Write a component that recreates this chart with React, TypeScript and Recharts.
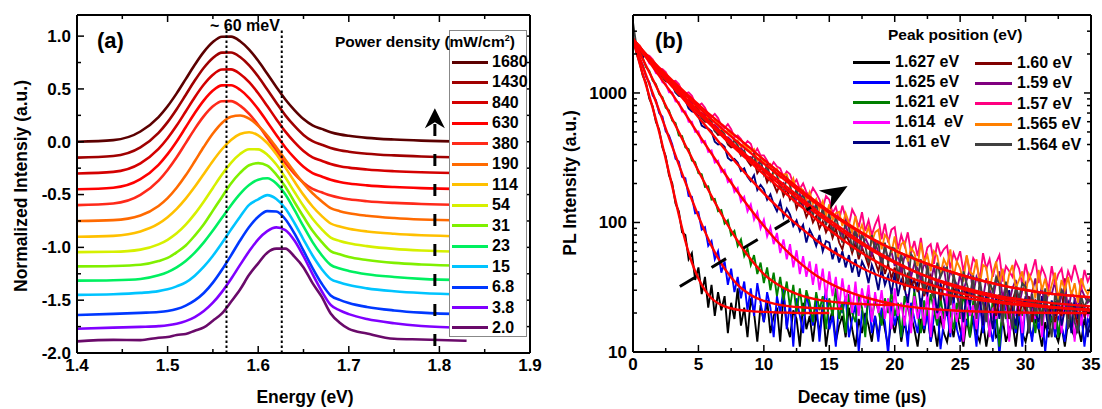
import React from 'react';
import { LineChart, Line, XAxis, YAxis, ReferenceLine, ReferenceDot, Legend } from 'recharts';

const FONT = '"Liberation Sans", Arial, Helvetica, sans-serif';

// ---------------- Panel (a): PL spectra ----------------
const energy = [1.40, 1.44, 1.47, 1.49, 1.50, 1.51, 1.52, 1.53, 1.54, 1.55, 1.56, 1.57, 1.58, 1.59, 1.60, 1.61, 1.62, 1.63, 1.64, 1.65, 1.66, 1.67, 1.68, 1.69, 1.70, 1.72, 1.75, 1.78, 1.83];
const powerLabels = ['1680', '1430', '840', '630', '380', '190', '114', '54', '31', '23', '15', '6.8', '3.8', '2.0'];
const powerColors = ['#5c0000', '#a00000', '#d40000', '#ff0000', '#ff2a1a', '#ff6a00', '#ffc000', '#d6f000', '#80f000', '#00f060', '#00c4ff', '#0038ff', '#8000ff', '#6a0a6a'];

const pl1680 = [0.00, 0.015, 0.097, 0.234, 0.336, 0.458, 0.593, 0.729, 0.851, 0.944, 0.994, 0.995, 0.952, 0.873, 0.767, 0.644, 0.519, 0.40, 0.30, 0.215, 0.155, 0.122, 0.091, 0.07, 0.056, 0.037, 0.021, 0.011, 0.003];
const pl1430 = [-0.15, -0.135, -0.053, 0.084, 0.186, 0.308, 0.443, 0.579, 0.701, 0.794, 0.844, 0.845, 0.802, 0.723, 0.617, 0.494, 0.369, 0.25, 0.15, 0.065, 0.005, -0.028, -0.059, -0.08, -0.094, -0.113, -0.129, -0.139, -0.147];
const pl840 = [-0.30, -0.285, -0.204, -0.068, 0.033, 0.153, 0.287, 0.422, 0.542, 0.635, 0.684, 0.685, 0.642, 0.564, 0.459, 0.338, 0.214, 0.096, -0.003, -0.087, -0.147, -0.179, -0.21, -0.231, -0.245, -0.263, -0.279, -0.289, -0.297];
const pl630 = [-0.45, -0.435, -0.354, -0.218, -0.117, 0.003, 0.137, 0.272, 0.392, 0.485, 0.534, 0.535, 0.492, 0.414, 0.309, 0.188, 0.064, -0.054, -0.153, -0.237, -0.297, -0.329, -0.36, -0.381, -0.395, -0.413, -0.429, -0.439, -0.447];
const pl380 = [-0.60, -0.585, -0.504, -0.368, -0.267, -0.147, -0.013, 0.122, 0.242, 0.335, 0.384, 0.385, 0.342, 0.264, 0.159, 0.038, -0.086, -0.204, -0.303, -0.387, -0.447, -0.479, -0.51, -0.531, -0.545, -0.563, -0.579, -0.589, -0.597];
const pl190 = [-0.75, -0.742, -0.698, -0.608, -0.534, -0.436, -0.318, -0.185, -0.048, 0.078, 0.178, 0.237, 0.248, 0.218, 0.152, 0.059, -0.052, -0.17, -0.287, -0.395, -0.488, -0.563, -0.629, -0.657, -0.676, -0.70, -0.722, -0.736, -0.746];
const pl114 = [-0.90, -0.891, -0.85, -0.776, -0.715, -0.636, -0.539, -0.427, -0.305, -0.182, -0.071, 0.017, 0.073, 0.09, 0.061, -0.012, -0.118, -0.245, -0.377, -0.503, -0.613, -0.702, -0.774, -0.803, -0.823, -0.849, -0.871, -0.885, -0.896];
const pl54 = [-1.045, -1.042, -1.021, -0.972, -0.928, -0.867, -0.785, -0.683, -0.565, -0.437, -0.311, -0.199, -0.116, -0.071, -0.072, -0.123, -0.216, -0.339, -0.476, -0.609, -0.729, -0.827, -0.908, -0.939, -0.961, -0.988, -1.014, -1.029, -1.041];
const pl31 = [-1.18, -1.176, -1.165, -1.13, -1.10, -1.047, -0.982, -0.888, -0.781, -0.652, -0.523, -0.395, -0.295, -0.222, -0.202, -0.226, -0.311, -0.426, -0.57, -0.71, -0.843, -0.948, -1.036, -1.066, -1.092, -1.12, -1.147, -1.162, -1.176];
const pl23 = [-1.315, -1.311, -1.299, -1.265, -1.234, -1.189, -1.129, -1.049, -0.952, -0.841, -0.72, -0.601, -0.494, -0.41, -0.359, -0.346, -0.395, -0.50, -0.645, -0.802, -0.95, -1.072, -1.166, -1.20, -1.223, -1.254, -1.28, -1.298, -1.311];
const pl15 = [-1.45, -1.444, -1.431, -1.414, -1.397, -1.369, -1.332, -1.268, -1.183, -1.079, -0.959, -0.832, -0.71, -0.598, -0.545, -0.505, -0.542, -0.632, -0.769, -0.926, -1.077, -1.204, -1.299, -1.333, -1.357, -1.388, -1.415, -1.432, -1.446];
const pl6_8 = [-1.64, -1.63, -1.62, -1.612, -1.602, -1.584, -1.551, -1.502, -1.432, -1.334, -1.212, -1.076, -0.935, -0.807, -0.71, -0.657, -0.66, -0.734, -0.868, -1.031, -1.196, -1.342, -1.455, -1.497, -1.526, -1.564, -1.597, -1.618, -1.634];
const pl3_8 = [-1.77, -1.76, -1.753, -1.746, -1.738, -1.723, -1.698, -1.66, -1.603, -1.524, -1.421, -1.299, -1.166, -1.037, -0.924, -0.846, -0.811, -0.836, -0.935, -1.084, -1.253, -1.413, -1.545, -1.597, -1.632, -1.678, -1.718, -1.744, -1.762];
const pl2_0 = [-1.89, -1.876, -1.878, -1.855, -1.849, -1.829, -1.82, -1.789, -1.758, -1.694, -1.625, -1.515, -1.399, -1.26, -1.151, -1.05, -1.012, -1.012, -1.088, -1.19, -1.339, -1.467, -1.626, -1.714, -1.772, -1.815, -1.865, -1.872, -1.884];

const powerSeries = [pl1680, pl1430, pl840, pl630, pl380, pl190, pl114, pl54, pl31, pl23, pl15, pl6_8, pl3_8, pl2_0];

const xTicksA = [1.4, 1.45, 1.5, 1.55, 1.6, 1.65, 1.7, 1.75, 1.8, 1.85, 1.9];
const xMajorA = [1.4, 1.5, 1.6, 1.7, 1.8, 1.9];
const yTicksA = [-2, -1.75, -1.5, -1.25, -1, -0.75, -0.5, -0.25, 0, 0.25, 0.5, 0.75, 1];
const yMajorA = [-2, -1.5, -1, -0.5, 0, 0.5, 1];
const peakMarksA = [1.565, 1.626];

const rowsA = energy.map((e, i) => {
  const r: any = { e };
  powerSeries.forEach((s, k) => { r['s' + k] = s[i]; });
  return r;
});

// ---------------- Panel (b): decay curves ----------------
const decayTime = [
  0, 0.25, 0.5, 0.75, 1, 1.25, 1.5, 1.75, 2, 2.25, 2.5, 2.75, 3, 3.25, 3.5, 3.75, 4, 4.25, 4.5, 4.75,
  5, 5.25, 5.5, 5.75, 6, 6.25, 6.5, 6.75, 7, 7.25, 7.5, 7.75, 8, 8.25, 8.5, 8.75, 9, 9.25, 9.5, 9.75,
  10, 10.25, 10.5, 10.75, 11, 11.25, 11.5, 11.75, 12, 12.25, 12.5, 12.75, 13, 13.25, 13.5, 13.75, 14, 14.25, 14.5, 14.75,
  15, 15.25, 15.5, 15.75, 16, 16.25, 16.5, 16.75, 17, 17.25, 17.5, 17.75, 18, 18.25, 18.5, 18.75, 19, 19.25, 19.5, 19.75,
  20, 20.25, 20.5, 20.75, 21, 21.25, 21.5, 21.75, 22, 22.25, 22.5, 22.75, 23, 23.25, 23.5, 23.75, 24, 24.25, 24.5, 24.75,
  25, 25.25, 25.5, 25.75, 26, 26.25, 26.5, 26.75, 27, 27.25, 27.5, 27.75, 28, 28.25, 28.5, 28.75, 29, 29.25, 29.5, 29.75,
  30, 30.25, 30.5, 30.75, 31, 31.25, 31.5, 31.75, 32, 32.25, 32.5, 32.75, 33, 33.25, 33.5, 33.75, 34, 34.25, 34.5, 34.75,
  35];
const peakLabels = ['1.627 eV', '1.625 eV', '1.621 eV', '1.614  eV', '1.61 eV', '1.60 eV', '1.59 eV', '1.57 eV', '1.565 eV', '1.564 eV'];
const peakColors = ['#000000', '#0000ff', '#008000', '#ff00ff', '#000080', '#800000', '#800080', '#ff0080', '#ff8000', '#404040'];

const dec1627 = [
  2750, 2050, 1720, 1360, 1190, 905, 790, 600, 520, 380, 325, 232, 200, 140, 122, 84, 80, 52, 58, 36,
  45, 28, 38, 22, 33, 19, 29, 21, 27, 14, 24, 18, 31, 16, 22, 13, 26, 20, 12, 23,
  17, 25, 14, 19, 22, 12, 28, 16, 13, 21, 18, 11, 24, 15, 19, 12, 20, 14, 23, 11,
  17, 21, 12, 16, 19, 13, 22, 15, 11, 18, 14, 20, 16, 12, 19, 13, 21, 15, 11, 18,
  14, 20, 12, 17, 13, 19, 15, 11, 18, 14, 21, 12, 16, 11, 19, 14, 12, 17, 13, 20,
  15, 11, 18, 13, 19, 14, 12, 17, 11, 16, 20, 13, 14, 18, 12, 15, 17, 11, 19, 14,
  12, 16, 13, 18, 15, 11, 17, 13, 19, 14, 12, 16, 11, 17, 15, 13, 16, 12, 18, 14,
  15];
const dec1625 = [
  2650, 2150, 1850, 1640, 1330, 1210, 960, 880, 700, 655, 505, 470, 400, 310, 295, 225, 220, 160, 158, 118,
  120, 88, 92, 66, 72, 52, 60, 41, 50, 33, 44, 29, 38, 26, 35, 21, 31, 19, 34, 24,
  17, 29, 22, 13, 27, 20, 31, 15, 24, 11, 26, 19, 14, 28, 21, 16, 25, 12, 22, 30,
  15, 19, 11, 24, 20, 27, 13, 18, 23, 10, 21, 16, 28, 14, 19, 12, 22, 17, 9.5, 25,
  16, 21, 13, 19, 11, 24, 18, 14, 26, 15, 20, 12, 19, 23, 10.5, 17, 21, 13, 27, 15,
  12, 20, 16, 23, 18, 11, 25, 14, 22, 16, 12, 20, 9.5, 18, 24, 13, 19, 14, 21, 11,
  25, 17, 12, 22, 15, 20, 10, 18, 23, 13, 19, 16, 12, 21, 17, 24, 14, 20, 11, 18,
  16];
const dec1621 = [
  2580, 2340, 2010, 1860, 1580, 1480, 1250, 1170, 980, 925, 770, 735, 610, 585, 470, 465, 380, 368, 300, 292,
  240, 236, 188, 190, 150, 152, 122, 125, 98, 104, 80, 86, 66, 74, 55, 63, 47, 56, 40, 49,
  34, 45, 30, 41, 27, 38, 25, 35, 22, 33, 20, 31, 19, 30, 24, 17, 29, 21, 27, 15,
  26, 19, 31, 18, 24, 14, 28, 20, 17, 27, 22, 13, 30, 18, 25, 21, 16, 26, 20, 29,
  19, 24, 13, 27, 22, 17, 30, 20, 14, 25, 19, 28, 21, 16, 26, 18, 29, 20, 15, 24,
  18, 27, 22, 13, 25, 19, 29, 17, 21, 14, 26, 20, 11, 24, 18, 28, 20, 15, 23, 19,
  27, 17, 21, 14, 24, 19, 28, 16, 18, 25, 13, 22, 26, 20, 17, 24, 15, 23, 19, 21,
  20];
const dec1614 = [
  2620, 2380, 2230, 1990, 1930, 1690, 1640, 1420, 1400, 1210, 1180, 1010, 1010, 860, 850, 720, 720, 600, 600, 500,
  505, 415, 425, 350, 360, 290, 300, 245, 255, 205, 215, 172, 185, 145, 158, 122, 138, 105, 120, 90,
  105, 78, 92, 68, 83, 58, 74, 52, 68, 45, 61, 40, 55, 38, 50, 33, 48, 30, 44, 26,
  42, 27, 38, 22, 37, 24, 33, 20, 35, 19, 31, 22, 33, 17, 29, 20, 30, 18, 26, 15,
  31, 19, 24, 16, 28, 14, 27, 18, 25, 16, 29, 13, 27, 18, 22, 15, 30, 14, 24, 17,
  26, 12, 28, 19, 23, 15, 27, 16, 29, 13, 22, 18, 25, 17, 28, 12, 24, 19, 26, 14,
  27, 16, 23, 18, 28, 13, 25, 17, 22, 15, 29, 14, 26, 18, 24, 12, 27, 16, 23, 19,
  22];
const dec1610 = [
  2640, 2400, 2200, 1880, 1990, 1780, 1650, 1610, 1510, 1340, 1250, 1230, 1160, 1010, 950, 940, 880, 760, 720, 710,
  665, 560, 540, 530, 505, 420, 400, 405, 385, 315, 300, 310, 290, 250, 262, 225, 208, 232, 178, 195,
  180, 150, 165, 138, 122, 145, 110, 128, 115, 94, 104, 86, 96, 70, 88, 78, 66, 80, 60, 72,
  70, 52, 64, 49, 60, 45, 56, 41, 52, 38, 50, 44, 34, 47, 40, 30, 44, 33, 39, 28,
  41, 27, 36, 31, 24, 37, 30, 35, 22, 33, 28, 36, 31, 20, 34, 26, 19, 30, 25, 33,
  28, 17, 30, 23, 32, 20, 26, 16, 29, 22, 15, 27, 18, 28, 24, 30, 21, 16, 27, 23,
  26, 14, 24, 20, 17, 27, 22, 15, 25, 19, 28, 16, 21, 24, 14, 26, 18, 23, 20, 13,
  21];
const dec1600 = [
  2610, 2380, 2190, 2010, 1960, 1760, 1630, 1560, 1480, 1330, 1235, 1210, 1150, 1030, 965, 950, 905, 800, 760, 745,
  725, 640, 600, 600, 580, 510, 475, 480, 462, 400, 380, 385, 370, 330, 345, 300, 275, 302, 240, 262,
  250, 205, 230, 198, 172, 200, 160, 181, 150, 168, 128, 146, 134, 110, 124, 100, 112, 90, 102, 84,
  95, 76, 90, 70, 62, 80, 72, 58, 70, 52, 64, 55, 46, 59, 50, 42, 54, 40, 48, 37,
  45, 34, 47, 30, 41, 32, 36, 29, 38, 27, 33, 39, 28, 36, 25, 33, 34, 23, 31, 27,
  22, 32, 26, 30, 29, 21, 28, 24, 20, 30, 25, 19, 28, 22, 27, 18, 25, 30, 19, 24,
  21, 27, 17, 25, 23, 18, 26, 20, 24, 17, 22, 19, 37, 18, 23, 20, 16, 24, 19, 22,
  20];
const dec1590 = [
  2580, 2400, 2290, 2060, 1910, 1850, 1740, 1560, 1460, 1420, 1340, 1200, 1130, 1110, 1060, 950, 890, 880, 840, 750,
  705, 700, 670, 600, 560, 565, 535, 480, 450, 455, 430, 385, 362, 380, 335, 318, 320, 290, 282, 301,
  240, 262, 230, 214, 218, 190, 201, 176, 180, 160, 150, 166, 138, 150, 122, 134, 125, 106, 116, 99,
  108, 88, 97, 92, 80, 96, 78, 88, 70, 84, 64, 76, 67, 56, 72, 58, 50, 64, 53, 60,
  46, 58, 41, 55, 52, 38, 48, 44, 36, 50, 42, 34, 46, 33, 40, 45, 31, 42, 38, 29,
  40, 30, 36, 44, 28, 38, 33, 26, 37, 31, 25, 35, 42, 26, 33, 24, 31, 36, 23, 30,
  34, 22, 29, 37, 25, 32, 21, 30, 28, 35, 22, 27, 33, 20, 29, 26, 21, 31, 27, 24,
  26];
const dec1570 = [
  2620, 2450, 2330, 2120, 1980, 1940, 1820, 1660, 1550, 1530, 1450, 1290, 1230, 1240, 1170, 1030, 990, 1010, 950, 840,
  800, 830, 770, 680, 650, 690, 640, 560, 535, 575, 525, 455, 470, 440, 395, 425, 405, 340, 372, 330,
  330, 300, 265, 292, 270, 262, 225, 248, 236, 198, 214, 182, 200, 172, 160, 185, 168, 150, 128, 160,
  150, 118, 132, 104, 135, 108, 96, 126, 112, 92, 120, 86, 104, 80, 96, 110, 74, 98, 70, 88,
  92, 62, 80, 66, 84, 58, 72, 55, 76, 50, 64, 68, 48, 70, 56, 62, 66, 44, 58, 50,
  60, 42, 55, 40, 53, 48, 36, 58, 44, 52, 38, 49, 56, 35, 46, 42, 38, 50, 44, 33,
  48, 36, 42, 52, 34, 45, 39, 30, 46, 33, 40, 44, 31, 42, 36, 47, 38, 30, 43, 35,
  40];
const dec1565 = [
  2650, 2450, 2320, 2080, 1930, 1870, 1790, 1610, 1500, 1470, 1410, 1250, 1180, 1170, 1130, 990, 940, 935, 900, 800,
  755, 760, 720, 640, 605, 620, 590, 515, 495, 510, 482, 420, 430, 385, 405, 372, 350, 368, 300, 322,
  295, 262, 281, 238, 260, 222, 235, 236, 190, 218, 170, 186, 178, 150, 172, 139, 152, 126, 146, 112,
  138, 104, 118, 121, 94, 118, 100, 84, 112, 82, 96, 78, 92, 70, 84, 88, 62, 80, 74, 58,
  78, 54, 68, 71, 50, 64, 58, 46, 70, 49, 56, 42, 60, 55, 40, 52, 46, 62, 38, 50,
  44, 35, 56, 42, 39, 52, 33, 47, 45, 30, 41, 50, 34, 44, 29, 40, 47, 31, 36, 42,
  28, 40, 35, 26, 43, 30, 37, 27, 33, 41, 25, 36, 30, 38, 27, 34, 24, 37, 31, 28,
  32];
const dec1564 = [
  3500, 2350, 2200, 1960, 1980, 1760, 1640, 1600, 1510, 1330, 1250, 1230, 1180, 1020, 970, 960, 930, 800, 760, 780,
  740, 640, 610, 625, 600, 505, 490, 510, 480, 410, 395, 430, 395, 330, 360, 305, 290, 340, 262, 300,
  235, 282, 212, 252, 232, 190, 172, 220, 195, 150, 182, 140, 168, 128, 150, 112, 142, 100, 130, 95,
  118, 80, 112, 88, 70, 102, 92, 60, 90, 56, 84, 66, 49, 80, 62, 72, 42, 70, 48, 64,
  63, 37, 57, 42, 32, 57, 52, 36, 52, 28, 48, 30, 26, 49, 38, 44, 45, 23, 40, 30,
  20, 42, 34, 27, 39, 18, 37, 24, 17, 35, 29, 38, 33, 16, 35, 21, 15, 32, 26, 34,
  32, 14, 28, 19, 29, 16, 31, 18, 13, 28, 23, 30, 27, 15, 24, 17, 14, 27, 22, 26,
  24];

// fitted curves (null where the fit is not drawn)
const fitTime = [0, 0.5, 1, 1.5, 2, 2.5, 3, 3.5, 4, 4.5, 5, 5.5, 6, 7, 8, 9, 10, 11, 12, 13, 14, 15, 16, 18, 20, 22, 25, 28, 31, 35];
const fit1627 = [2600, 1700, 1150, 770, 500, 310, 190, 115, 72, 49, 37, 30, 26, 22.5, 21.2, 20.7, 20.4, 20.2, 20.1, 20, 20, 20, null, null, null, null, null, null, null, null];
const fit1625 = [2600, 1880, 1370, 1000, 730, 530, 385, 280, 205, 150, 112, 85, 66, 44, 33, 27.5, 24.8, 23.3, 22.5, 22.1, 21.8, 21.7, 21.6, null, null, null, null, null, null, null];
const fit1621 = [2600, 2050, 1620, 1280, 1010, 800, 630, 500, 395, 315, 250, 200, 160, 105, 72, 52, 40, 33.5, 29.5, 27, 25.5, 24.6, 24, 23.3, 23, null, null, null, null, null];
const fit1614 = [2600, 2200, 1880, 1600, 1360, 1150, 980, 825, 690, 575, 480, 405, 340, 240, 172, 126, 94, 72, 57, 46.5, 39, 34, 30.5, 26, 23.3, 21.8, 20.8, 20.3, 20.1, 20];
const fit1610 = [2600, 2250, 1950, 1700, 1480, 1290, 1130, 985, 860, 750, 650, 565, 490, 370, 280, 215, 168, 133, 107, 88, 73, 62, 54, 42, 35, 30.5, 26.5, 24, 22.5, 21.2];
const fit1600 = [2600, 2230, 1920, 1660, 1450, 1270, 1120, 990, 880, 785, 700, 625, 558, 445, 358, 290, 235, 192, 157, 129, 106, 88, 74, 54, 42, 35, 28.5, 24.5, 22.5, 21];
const fit1590 = [2600, 2250, 1950, 1700, 1490, 1310, 1160, 1030, 915, 815, 727, 650, 580, 465, 375, 305, 250, 205, 170, 142, 118, 100, 85, 63, 49, 40, 32, 27, 24.5, 22.5];
const fit1570 = [2600, 2280, 2000, 1770, 1570, 1400, 1250, 1120, 1005, 905, 815, 735, 665, 548, 452, 372, 305, 252, 208, 173, 145, 122, 104, 78, 61, 50, 39.5, 33, 29, 26.5];
const fit1565 = [2600, 2260, 1970, 1730, 1530, 1360, 1210, 1080, 965, 865, 775, 695, 625, 510, 418, 343, 285, 238, 198, 166, 140, 119, 102, 77, 61, 50, 39.5, 33, 29, 26.5];
const fit1564 = [2600, 2240, 1935, 1680, 1470, 1290, 1140, 1010, 900, 803, 718, 643, 577, 465, 377, 310, 258, 216, 180, 149, 124, 105, 89, 65, 50, 40, 31, 26, 23, 21];

const decaySeries = [dec1627, dec1625, dec1621, dec1614, dec1610, dec1600, dec1590, dec1570, dec1565, dec1564];
const fitSeries = [fit1627, fit1625, fit1621, fit1614, fit1610, fit1600, fit1590, fit1570, fit1565, fit1564];

const xTicksB = [0, 2.5, 5, 7.5, 10, 12.5, 15, 17.5, 20, 22.5, 25, 27.5, 30, 32.5, 35];
const xMajorB = [0, 5, 10, 15, 20, 25, 30, 35];
const yTicksB = [10, 20, 30, 40, 50, 60, 70, 80, 90, 100, 200, 300, 400, 500, 600, 700, 800, 900, 1000, 2000, 3000, 4000];
const yMajorB = [10, 100, 1000];

const decayRows = decayTime.map((t, i) => {
  const r: any = { t };
  decaySeries.forEach((s, k) => { r['d' + k] = s[i]; });
  return r;
});
const fitRows = fitTime.map((t, i) => {
  const r: any = { t };
  fitSeries.forEach((s, k) => { r['f' + k] = s[i]; });
  return r;
});

// ---------------- helpers ----------------
const AXIS = { stroke: '#000', strokeWidth: 2 };
const TXT = { fontFamily: FONT, fontWeight: 700, fontSize: 17, fill: '#000' } as const;

const isMajor = (v: number, majors: number[]) => majors.some((m) => Math.abs(m - v) < 1e-9);

function makeTick(side: 'bottom' | 'top' | 'left' | 'right', majors: number[], fmt: ((v: number) => string) | null) {
  return (props: any) => {
    const { x, y, payload } = props;
    const v = Number(payload.value);
    const major = isMajor(v, majors);
    const len = major ? 7 : 4;
    let ln: any = null;
    if (side === 'bottom') ln = <line x1={x} x2={x} y1={y} y2={y - len} stroke="#000" strokeWidth={1.5} />;
    if (side === 'top') ln = <line x1={x} x2={x} y1={y} y2={y + len} stroke="#000" strokeWidth={1.5} />;
    if (side === 'left') ln = <line x1={x} x2={x + len} y1={y} y2={y} stroke="#000" strokeWidth={1.5} />;
    if (side === 'right') ln = <line x1={x} x2={x - len} y1={y} y2={y} stroke="#000" strokeWidth={1.5} />;
    let label: any = null;
    if (fmt && major) {
      if (side === 'bottom') label = <text x={x} y={y + 18} textAnchor="middle" {...TXT}>{fmt(v)}</text>;
      if (side === 'left') label = <text x={x - 6} y={y} dy="0.34em" textAnchor="end" {...TXT}>{fmt(v)}</text>;
    }
    return <g>{ln}{label}</g>;
  };
}

const LegendA = () => (
  <div style={{ position: 'relative', width: 78, height: 307, border: '1px solid #888', background: '#fff', boxSizing: 'border-box' }}>
    {powerLabels.map((lab, i) => (
      <div key={lab} style={{ position: 'absolute', left: 2, top: 32 + i * 20.46 - 10 - 1, height: 20, display: 'flex', alignItems: 'center' }}>
        <div style={{ width: 36, height: 3, background: powerColors[i] }} />
        <span style={{ marginLeft: 4, fontFamily: FONT, fontWeight: 700, fontSize: 16, color: '#000', lineHeight: '20px' }}>{lab}</span>
      </div>
    ))}
  </div>
);

const LegendB = () => (
  <div style={{ position: 'relative', width: 260, height: 110 }}>
    {peakLabels.map((lab, i) => {
      const col = i < 5 ? 0 : 1;
      const row = i % 5;
      const left = col === 0 ? 0 : 122;
      const top = col === 0 ? row * 20 : 1 + row * 20.4;
      return (
        <div key={lab} style={{ position: 'absolute', left, top, height: 20, display: 'flex', alignItems: 'center' }}>
          <div style={{ width: 37, height: 3, background: peakColors[i] }} />
          <span style={{ marginLeft: 5, fontFamily: FONT, fontWeight: 700, fontSize: 16, color: '#000', whiteSpace: 'pre', lineHeight: '20px' }}>{lab}</span>
        </div>
      );
    })}
  </div>
);

const ArrowUp = (p: any) => (
  <path d={`M${p.cx},${p.cy - 11} L${p.cx + 10},${p.cy + 9} L${p.cx},${p.cy + 3} L${p.cx - 10},${p.cy + 9} Z`} fill="#000" />
);
const ArrowDiag = (p: any) => (
  <path transform={`translate(${p.cx},${p.cy}) rotate(-31)`} d="M0,0 L-27,-11 L-19,0 L-27,11 Z" fill="#000" />
);

export default function App() {
  return (
    <div style={{ position: 'absolute', left: 0, top: 0, width: 1102, height: 409, background: '#fff', overflow: 'hidden' }}>
      <div style={{ position: 'absolute', left: 0, top: 0 }}>
        <LineChart width={560} height={409} data={rowsA} margin={{ top: 14, right: 29, bottom: 55, left: 76 }}>
          <XAxis dataKey="e" type="number" domain={[1.4, 1.9]} ticks={xTicksA} interval={0} height={1} tickSize={0} tickMargin={0} tickLine={false} axisLine={AXIS} tick={makeTick('bottom', xMajorA, (v) => v.toFixed(1))} allowDataOverflow />
          <XAxis xAxisId="top" dataKey="e" orientation="top" type="number" domain={[1.4, 1.9]} ticks={xTicksA} interval={0} height={1} tickSize={0} tickMargin={0} tickLine={false} axisLine={AXIS} tick={makeTick('top', xMajorA, null)} allowDataOverflow />
          <YAxis type="number" domain={[-2, 1.2]} ticks={yTicksA} interval={0} width={1} tickSize={0} tickMargin={0} tickLine={false} axisLine={AXIS} tick={makeTick('left', yMajorA, (v) => v.toFixed(1))} allowDataOverflow />
          <YAxis yAxisId="right" orientation="right" type="number" domain={[-2, 1.2]} ticks={yTicksA} interval={0} width={1} tickSize={0} tickMargin={0} tickLine={false} axisLine={AXIS} tick={makeTick('right', yMajorA, null)} allowDataOverflow />
          <Line xAxisId="top" yAxisId="right" dataKey="s0" stroke="#000" strokeOpacity={0} dot={false} activeDot={false} isAnimationActive={false} legendType="none" />
          {powerSeries.map((_, k) => (
            <Line key={k} type="monotone" dataKey={'s' + k} stroke={powerColors[k]} strokeWidth={2.6} dot={false} activeDot={false} isAnimationActive={false} />
          ))}
          <ReferenceLine segment={[{ x: peakMarksA[0], y: -2 }, { x: peakMarksA[0], y: 1.09 }]} stroke="#000" strokeWidth={2} strokeDasharray="2.5 2.5" />
          <ReferenceLine segment={[{ x: peakMarksA[1], y: -2 }, { x: peakMarksA[1], y: 1.066 }]} stroke="#000" strokeWidth={2} strokeDasharray="2.5 2.5" />
          <ReferenceLine segment={[{ x: 1.795, y: -1.934 }, { x: 1.795, y: 0.174 }]} stroke="#000" strokeWidth={3} strokeDasharray="12 18" />
          <ReferenceDot x={1.795} y={0.212} r={0} shape={ArrowUp} />
          <Legend layout="vertical" align="center" verticalAlign="middle" wrapperStyle={{ left: 449, top: 30, width: 78, height: 307 }} content={() => <LegendA />} />
        </LineChart>
      </div>

      <div style={{ position: 'absolute', left: 560, top: 0 }}>
        <LineChart width={542} height={409} margin={{ top: 14, right: 10, bottom: 56, left: 72 }}>
          <XAxis dataKey="t" type="number" domain={[0, 35]} ticks={xTicksB} interval={0} height={1} tickSize={0} tickMargin={0} tickLine={false} axisLine={AXIS} tick={makeTick('bottom', xMajorB, (v) => String(v))} allowDataOverflow />
          <XAxis xAxisId="top" dataKey="t" orientation="top" type="number" domain={[0, 35]} ticks={xTicksB} interval={0} height={1} tickSize={0} tickMargin={0} tickLine={false} axisLine={AXIS} tick={makeTick('top', xMajorB, null)} allowDataOverflow />
          <YAxis type="number" scale="log" domain={[10, 4000]} ticks={yTicksB} interval={0} width={1} tickSize={0} tickMargin={0} tickLine={false} axisLine={AXIS} tick={makeTick('left', yMajorB, (v) => String(v))} allowDataOverflow />
          <YAxis yAxisId="right" orientation="right" type="number" scale="log" domain={[10, 4000]} ticks={yTicksB} interval={0} width={1} tickSize={0} tickMargin={0} tickLine={false} axisLine={AXIS} tick={makeTick('right', yMajorB, null)} allowDataOverflow />
          <Line data={fitRows} xAxisId="top" yAxisId="right" dataKey="f9" stroke="#000" strokeOpacity={0} dot={false} activeDot={false} isAnimationActive={false} legendType="none" />
          {decaySeries.map((_, k) => (
            <Line key={'d' + k} data={decayRows} type="linear" dataKey={'d' + k} stroke={peakColors[k]} strokeWidth={1.9} dot={false} activeDot={false} isAnimationActive={false} />
          ))}
          {fitSeries.map((_, k) => (
            <Line key={'f' + k} data={fitRows} type="monotone" dataKey={'f' + k} stroke="#ff0000" strokeWidth={2.4} dot={false} activeDot={false} isAnimationActive={false} legendType="none" />
          ))}
          <ReferenceLine segment={[{ x: 3.58, y: 32 }, { x: 13.6, y: 131 }]} stroke="#000" strokeWidth={3} strokeDasharray="17 20" />
          <ReferenceDot x={16.4} y={191} r={0} shape={ArrowDiag} />
          <Legend layout="vertical" align="center" verticalAlign="middle" wrapperStyle={{ left: 293, top: 52, width: 260, height: 110 }} content={() => <LegendB />} />
        </LineChart>
      </div>

      <svg width={1102} height={409} style={{ position: 'absolute', left: 0, top: 0, pointerEvents: 'none' }}>
        <text x={97} y={48} fontFamily={FONT} fontWeight={700} fontSize={22}>(a)</text>
        <text x={245} y={31} textAnchor="middle" fontFamily={FONT} fontWeight={700} fontSize={16}>~ 60 meV</text>
        <text x={335} y={47} fontFamily={FONT} fontWeight={700} fontSize={15.5}>
          Power density (mW/cm<tspan dy={-6} fontSize={9}>2</tspan><tspan dy={6}>)</tspan>
        </text>
        <text x={305} y={403} textAnchor="middle" fontFamily={FONT} fontWeight={700} fontSize={17.5}>Energy (eV)</text>
        <text transform="translate(21,186) rotate(-90)" textAnchor="middle" dy="0.35em" fontFamily={FONT} fontWeight={700} fontSize={17.5}>Normalized Intensiy (a.u.)</text>
        <text x={655} y={48} fontFamily={FONT} fontWeight={700} fontSize={22}>(b)</text>
        <text x={888} y={40} fontFamily={FONT} fontWeight={700} fontSize={15.5}>Peak position (eV)</text>
        <text x={862} y={403} textAnchor="middle" fontFamily={FONT} fontWeight={700} fontSize={17.5}>Decay time (µs)</text>
        <text transform="translate(570,183) rotate(-90)" textAnchor="middle" dy="0.35em" fontFamily={FONT} fontWeight={700} fontSize={17.5}>PL Intensity (a.u.)</text>
      </svg>
    </div>
  );
}
